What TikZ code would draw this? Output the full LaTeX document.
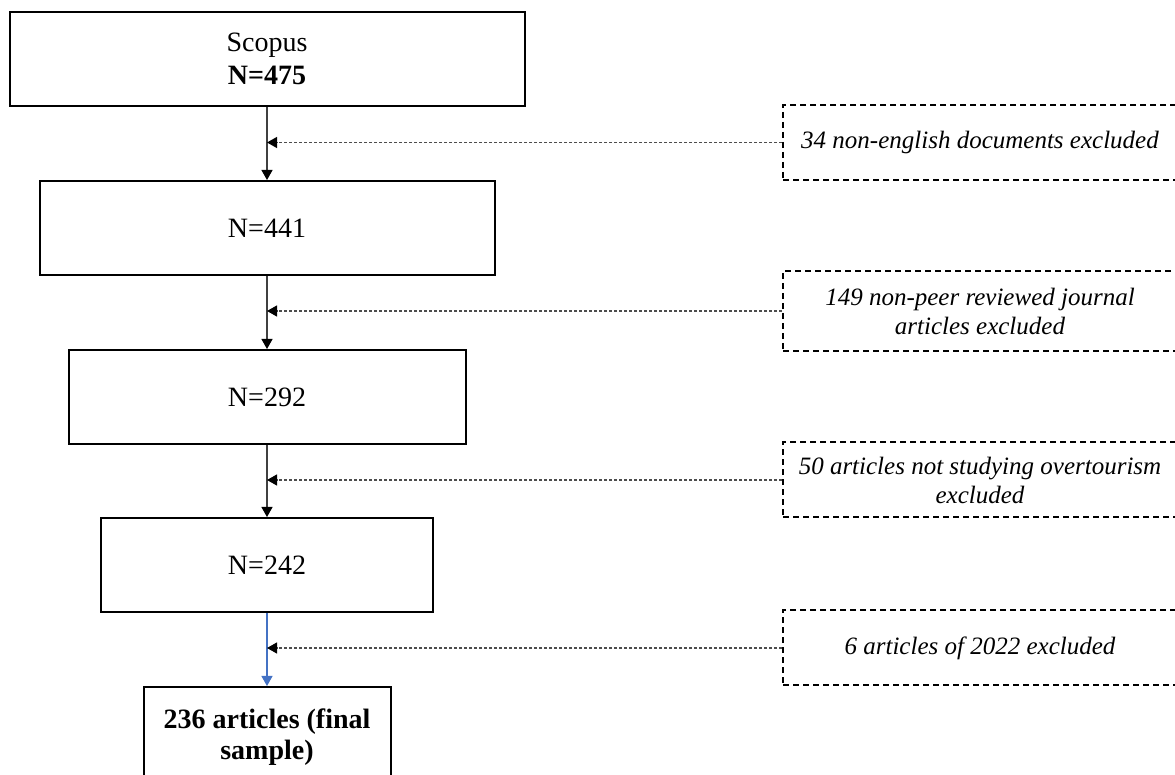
\documentclass[tikz,border=0pt]{standalone}
\usepackage{fontspec}
\setmainfont{Liberation Serif}
\usetikzlibrary{arrows.meta}
\definecolor{linegray}{HTML}{404040}
\definecolor{dotgray}{HTML}{4D4D4D}
\definecolor{finalblue}{HTML}{4472C4}
\tikzset{
  stagebox/.style={
    rectangle, draw=black, line width=1pt,
    minimum width=#1, minimum height=47pt,
    font=\fontsize{14pt}{16.5pt}\selectfont, align=center, inner sep=2pt
  },
  exclbox/.style={
    rectangle, draw=black, line width=1pt, dash pattern=on 3pt off 2pt,
    minimum width=197pt, minimum height=#1,
    font=\fontsize{12.5pt}{14.5pt}\selectfont\itshape, align=center, inner sep=2pt
  },
  exclbox/.default=37.5pt,
  flowarrow/.style={
    -{Triangle[length=5pt,width=5.5pt,color=#1]}, line width=0.6pt, draw=#1
  },
  flowarrow/.default=black,
  exclarrow/.style={
    -{Triangle[length=5pt,width=5.5pt,color=black]}, line width=0.6pt,
    draw=dotgray, dash pattern=on 1.5pt off 1pt
  },
}

\begin{document}
\begin{tikzpicture}[x=0.5pt, y=-0.5pt]
  \clip (0,0) rectangle (1175,775);

  % Nodes
  \node[stagebox=257.5pt] (scopus) at (267,59) {Scopus\\\textbf{N=475}};
  \node[stagebox=227.5pt] (n441) at (267,228) {N=441};
  \node[stagebox=198.5pt] (n292) at (267,397) {N=292};
  \node[stagebox=166pt] (n242) at (267,565) {N=242};
  \node[stagebox=123.5pt, minimum height=50pt,
        font=\fontsize{14pt}{15.5pt}\selectfont\bfseries] (final) at (267,737)
        {236 articles (final\\sample)};

  \node[exclbox] (excl1) at (980,142.5) {34 non-english documents excluded};
  \node[exclbox=40pt] (excl2) at (980,311) {149 non-peer reviewed journal\\articles excluded};
  \node[exclbox] (excl3) at (980,480) {50 articles not studying overtourism\\excluded};
  \node[exclbox] (excl4) at (980,648) {6 articles of 2022 excluded};

  % Arrows
  \draw[flowarrow=black, draw=linegray] (scopus) -- (n441);
  \draw[flowarrow=black, draw=linegray] (n441) -- (n292);
  \draw[flowarrow=black, draw=linegray] (n292) -- (n242);
  \draw[flowarrow=finalblue] (n242) -- (final);

  % Exclusions
  \draw[exclarrow] (excl1.west) -- (excl1.west -| scopus.south);
  \draw[exclarrow] (excl2.west) -- (excl2.west -| n441.south);
  \draw[exclarrow] (excl3.west) -- (excl3.west -| n292.south);
  \draw[exclarrow] (excl4.west) -- (excl4.west -| n242.south);
\end{tikzpicture}
\end{document}
